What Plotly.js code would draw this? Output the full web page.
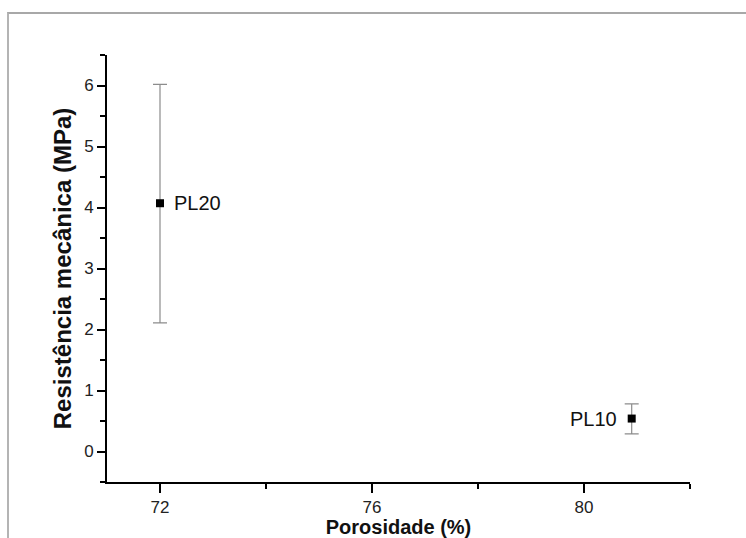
<!DOCTYPE html>
<html>
<head>
<meta charset="utf-8">
<script src="https://cdn.plot.ly/plotly-3.0.1.min.js"></script>
<style>
  html, body { margin: 0; padding: 0; background: #fff; }
  #wrap { position: relative; width: 746px; height: 538px; }
  #frame { position: absolute; left: 7px; top: 12px; right: -10px; bottom: -10px;
           border-top: 2px solid #a8a8a8; border-left: 2px solid #b4b4b4; pointer-events: none; z-index: 5; }
  #chart { position: absolute; left: 0; top: 0; width: 746px; height: 538px; }
</style>
</head>
<body>
<div id="wrap">
  <div id="chart"></div>
  <div id="frame"></div>
</div>
<script>
// Data
const samples = ["PL20", "PL10"];
const porosity = [72.0, 80.9];         // %
const strength = [4.07, 0.54];         // MPa
const errPlus  = [1.95, 0.24];
const errMinus = [1.96, 0.25];

const xTickVals = [72, 76, 80];
const yTickVals = [0, 1, 2, 3, 4, 5, 6];

const font = "Liberation Sans, Arial, sans-serif";

const trace = {
  x: porosity,
  y: strength,
  type: "scatter",
  mode: "markers",
  marker: { symbol: "square", size: 8, color: "#000" },
  error_y: {
    type: "data", symmetric: false,
    array: errPlus, arrayminus: errMinus,
    color: "#8c8c8c", thickness: 1.2, width: 7
  },
  hoverinfo: "skip",
  cliponaxis: false
};

const annotations = samples.map((s, i) => ({
  x: porosity[i], y: strength[i], xref: "x", yref: "y",
  text: s, showarrow: false,
  xanchor: i === 0 ? "left" : "right",
  xshift: i === 0 ? 12 : -13,
  yshift: 0,
  font: { family: font, size: 20, color: "#111" }
}));

const layout = {
  width: 746, height: 538,
  margin: { l: 107, r: 56, t: 55, b: 56 },
  paper_bgcolor: "#fff", plot_bgcolor: "#fff",
  showlegend: false,
  font: { family: font, color: "#222" },
  xaxis: {
    range: [71, 82],
    tickmode: "array", tickvals: xTickVals,
    ticks: "outside", ticklen: 9, tickwidth: 2, tickcolor: "#000",
    minor: { tickmode: "array", tickvals: [74, 78, 82], ticks: "outside", ticklen: 5, tickwidth: 2, tickcolor: "#000", showgrid: false },
    showline: true, linewidth: 2, linecolor: "#000",
    showgrid: false, zeroline: false,
    tickfont: { family: font, size: 17, color: "#222" },
    title: { text: "<b>Porosidade (%)</b>", font: { family: font, size: 20, color: "#111" }, standoff: 5 }
  },
  yaxis: {
    range: [-0.5, 6.5],
    tickmode: "array", tickvals: yTickVals,
    ticks: "outside", ticklen: 8, tickwidth: 2, tickcolor: "#000",
    minor: { dtick: 0.5, tick0: 0.5, ticks: "outside", ticklen: 5, tickwidth: 2, tickcolor: "#000", showgrid: false },
    showline: true, linewidth: 2, linecolor: "#000",
    showgrid: false, zeroline: false,
    tickfont: { family: font, size: 17, color: "#222" },
    title: { text: "<b>Resistência mecânica (MPa)</b>", font: { family: font, size: 24, color: "#111" }, standoff: 6 }
  },
  annotations: annotations
};

Plotly.newPlot("chart", [trace], layout, { displayModeBar: false, staticPlot: true });
</script>
</body>
</html>
